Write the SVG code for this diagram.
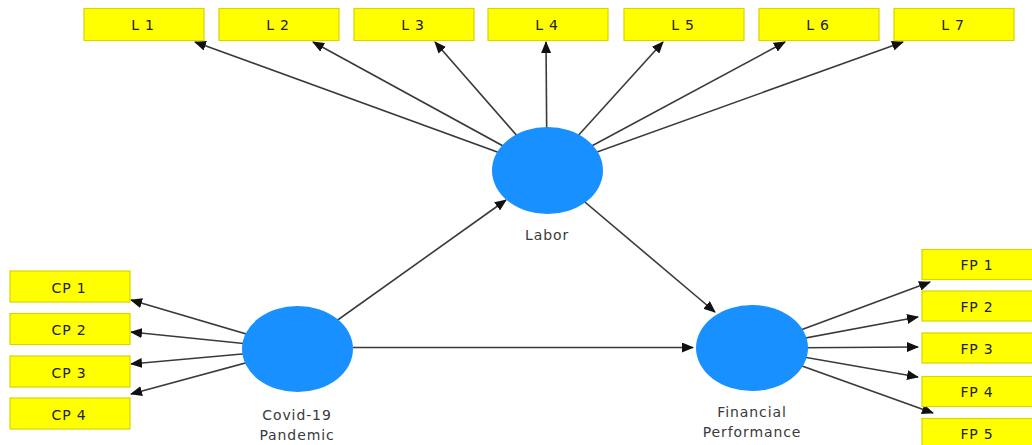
<svg xmlns="http://www.w3.org/2000/svg" width="1032" height="445" viewBox="0 0 1032 445">
  <style>
    .box { fill: #ffff00; stroke: #d9d400; stroke-width: 1.2; }
    .btxt { font-family: "DejaVu Sans", Verdana, sans-serif; font-size: 14px; fill: #222; text-anchor: middle; letter-spacing: 0.8px; }
    .lv { fill: #1890ff; }
    .ltxt { font-family: "DejaVu Sans", Verdana, sans-serif; font-size: 14px; fill: #3a3a3a; text-anchor: middle; letter-spacing: 0.9px; }
    .edge { stroke: #3a3a3a; stroke-width: 1.6; fill: none; marker-end: url(#arr); }
  </style>
  <defs>
    <marker id="arr" markerUnits="userSpaceOnUse" markerWidth="12" markerHeight="10" refX="11" refY="5" orient="auto">
      <path d="M0,0 L12,5 L0,10 Z" fill="#111"/>
    </marker>
  </defs>
  <rect width="1032" height="445" fill="#fff"/>

  <!-- connectors (drawn from construct centres, covered by the ellipses) -->
  <g id="connectors">
    <line class="edge" x1="547" y1="170" x2="195" y2="42"/>
    <line class="edge" x1="547" y1="170" x2="313" y2="42"/>
    <line class="edge" x1="547" y1="170" x2="435" y2="42"/>
    <line class="edge" x1="547" y1="170" x2="546" y2="42"/>
    <line class="edge" x1="547" y1="170" x2="663" y2="42"/>
    <line class="edge" x1="547" y1="170" x2="785" y2="42"/>
    <line class="edge" x1="547" y1="170" x2="903" y2="42"/>

    <line class="edge" x1="297" y1="349" x2="131" y2="300"/>
    <line class="edge" x1="297" y1="349" x2="131" y2="332"/>
    <line class="edge" x1="297" y1="349" x2="131" y2="364"/>
    <line class="edge" x1="297" y1="349" x2="131" y2="394"/>

    <line class="edge" x1="752" y1="348" x2="930" y2="282"/>
    <line class="edge" x1="752" y1="348" x2="918" y2="317"/>
    <line class="edge" x1="752" y1="348" x2="918" y2="347"/>
    <line class="edge" x1="752" y1="348" x2="918" y2="377"/>
    <line class="edge" x1="752" y1="348" x2="933" y2="413"/>

    <line class="edge" x1="297" y1="349" x2="506" y2="200"/>
    <line class="edge" x1="547" y1="170" x2="715" y2="312"/>
    <line class="edge" x1="353" y1="347.5" x2="693" y2="347.5"/>
  </g>

  <!-- latent constructs -->
  <g id="labor">
    <ellipse class="lv" cx="547.5" cy="170.5" rx="55.5" ry="43.5"/>
    <text class="ltxt" x="547" y="240">Labor</text>
  </g>
  <g id="covid">
    <ellipse class="lv" cx="297.5" cy="349" rx="55.5" ry="43"/>
    <text class="ltxt" x="297" y="420">Covid-19</text>
    <text class="ltxt" x="297" y="440">Pandemic</text>
  </g>
  <g id="financial">
    <ellipse class="lv" cx="752" cy="348" rx="56" ry="43"/>
    <text class="ltxt" x="752" y="417">Financial</text>
    <text class="ltxt" x="752" y="437">Performance</text>
  </g>

  <!-- Labor indicators -->
  <g id="L1"><rect class="box" x="84" y="8.5" width="120" height="32"/><text class="btxt" x="143" y="29.5">L 1</text></g>
  <g id="L2"><rect class="box" x="219" y="8.5" width="120" height="32"/><text class="btxt" x="278" y="29.5">L 2</text></g>
  <g id="L3"><rect class="box" x="354" y="8.5" width="120" height="32"/><text class="btxt" x="413" y="29.5">L 3</text></g>
  <g id="L4"><rect class="box" x="488" y="8.5" width="120" height="32"/><text class="btxt" x="547" y="29.5">L 4</text></g>
  <g id="L5"><rect class="box" x="624" y="8.5" width="120" height="32"/><text class="btxt" x="683" y="29.5">L 5</text></g>
  <g id="L6"><rect class="box" x="759" y="8.5" width="120" height="32"/><text class="btxt" x="818" y="29.5">L 6</text></g>
  <g id="L7"><rect class="box" x="894" y="8.5" width="120" height="32"/><text class="btxt" x="953" y="29.5">L 7</text></g>

  <!-- Covid-19 indicators -->
  <g id="CP1"><rect class="box" x="10" y="271" width="120" height="31"/><text class="btxt" x="69" y="292.5">CP 1</text></g>
  <g id="CP2"><rect class="box" x="10" y="313.5" width="120" height="31"/><text class="btxt" x="69" y="335">CP 2</text></g>
  <g id="CP3"><rect class="box" x="10" y="356" width="120" height="31"/><text class="btxt" x="69" y="377.5">CP 3</text></g>
  <g id="CP4"><rect class="box" x="10" y="398" width="120" height="31"/><text class="btxt" x="69" y="419.5">CP 4</text></g>

  <!-- Financial performance indicators -->
  <g id="FP1"><rect class="box" x="922" y="249.5" width="120" height="30"/><text class="btxt" x="977" y="270">FP 1</text></g>
  <g id="FP2"><rect class="box" x="922" y="291" width="120" height="30"/><text class="btxt" x="977" y="311.5">FP 2</text></g>
  <g id="FP3"><rect class="box" x="922" y="333" width="120" height="30"/><text class="btxt" x="977" y="353.5">FP 3</text></g>
  <g id="FP4"><rect class="box" x="922" y="376.5" width="120" height="30"/><text class="btxt" x="977" y="397">FP 4</text></g>
  <g id="FP5"><rect class="box" x="922" y="418.5" width="120" height="30"/><text class="btxt" x="977" y="439">FP 5</text></g>
</svg>
